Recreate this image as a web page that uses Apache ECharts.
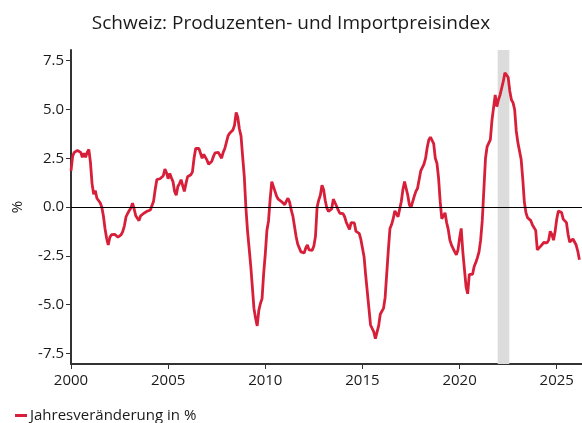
<!DOCTYPE html>
<html>
<head>
<meta charset="utf-8">
<script src="https://cdn.jsdelivr.net/npm/echarts@6/dist/echarts.min.js"></script>
<style>
html,body{margin:0;padding:0;background:#fff;}
#chart{width:582px;height:423px;}
</style>
</head>
<body>
<div id="chart"></div>
<script>
var titleText = 'Schweiz: Produzenten- und Importpreisindex';
var seriesName = 'Jahresveränderung in %';
var startYear = 2000;
// monthly year-over-year change, Jan 2000 onwards
var values = [
  1.85, 2.6, 2.8, 2.85, 2.9, 2.95, 2.8, 2.55, 2.75, 2.55, 2.8, 2.95,
  2.3, 1.2, 0.65, 0.85, 0.45, 0.38, 0.22, 0.0, -0.45, -1.1, -1.6, -1.95,
  -1.55, -1.42, -1.38, -1.4, -1.47, -1.55, -1.6, -1.42, -1.25, -0.95, -0.5, -0.33,
  -0.18, -0.05, 0.2, -0.1, -0.45, -0.58, -0.7, -0.45, -0.35, -0.32, -0.28, -0.22,
  -0.2, -0.15, -0.07, 0.3, 0.9, 1.4, 1.42, 1.45, 1.45, 1.6, 1.95, 1.75,
  1.45, 1.72, 1.5, 1.3, 0.8, 0.6, 1.05, 1.2, 1.4, 1.1, 0.8, 1.2,
  1.55, 1.6, 1.65, 1.8, 2.5, 3.0, 3.02, 3.0, 2.95, 2.5, 2.7, 2.6,
  2.4, 2.2, 2.2, 2.35, 2.6, 2.78, 2.8, 2.8, 2.7, 2.5, 2.8, 3.0,
  3.1, 3.65, 3.78, 3.7, 3.95, 4.2, 4.85, 4.6, 4.0, 3.65, 2.6, 1.6,
  0.0, -1.2, -2.1, -3.0, -4.1, -5.2, -5.7, -6.1, -5.3, -4.95, -4.7, -3.4,
  -2.4, -1.2, -0.7, 0.4, 1.3, 1.35, 0.8, 0.55, 0.4, 0.35, 0.28, 0.2,
  0.12, 0.3, 0.45, 0.25, -0.15, -0.45, -0.55, -1.5, -1.9, -1.93, -2.3, -2.36,
  -2.36, -2.1, -1.95, -2.2, -2.27, -2.22, -2.0, -1.5, 0.0, 0.35, 0.6, 1.12,
  0.9, 0.35, -0.05, -0.22, -0.17, -0.1, 0.4, 0.3, 0.05, -0.15, -0.32, -0.34,
  -0.34, -0.5, -0.78, -0.85, -1.15, -0.8, -0.8, -0.82, -1.25, -1.18, -1.35, -1.65,
  -2.1, -2.55, -3.5, -3.5, -5.2, -6.05, -6.15, -6.4, -6.75, -6.78, -6.1, -5.5,
  -5.45, -5.2, -4.65, -4.55, -2.2, -1.1, -0.9, -0.6, -0.2, -0.14, -0.5, -0.4,
  0.28, 0.9, 1.3, 1.25, 0.6, 0.1, -0.02, -0.05, 0.55, 0.8, 0.95, 1.4,
  1.85, 1.9, 2.2, 2.5, 3.05, 3.45, 3.58, 3.55, 3.25, 2.5, 2.25, 1.5,
  0.3, -0.6, -0.6, -0.3, -0.8, -1.15, -1.7, -1.95, -2.05, -2.3, -2.45, -2.2,
  -1.6, -1.1, -2.3, -3.2, -4.1, -4.45, -3.45, -3.4, -3.45, -3.05, -2.85, -2.6,
  -2.3, -1.7, -0.7, 0.9, 2.5, 3.1, 3.14, 3.45, 4.45, 4.55, 5.75, 5.15,
  5.5, 5.75, 6.1, 6.45, 6.88, 6.95, 6.65, 5.95, 5.5, 5.35, 5.0, 3.9,
  3.3, 3.2, 2.45, 1.45, 0.25, -0.3, -0.55, -0.6, -0.7, -0.92, -0.98, -1.2,
  -2.2, -2.15, -2.02, -2.02, -1.82, -1.84, -1.84, -1.7, -1.25, -1.4, -1.7, -1.25,
  -0.62, -0.2, -0.1, -0.28, -0.62, -0.72, -0.8, -1.4, -1.8, -1.75, -1.64, -1.7,
  -1.95, -2.27, -2.7
];
var xTicks = [2000, 2005, 2010, 2015, 2020, 2025];
var yTicks = [-7.5, -5.0, -2.5, 0.0, 2.5, 5.0, 7.5];
var shadeStart = 2021.96;
var shadeEnd = 2022.56;

var data = values.map(function (v, i) { return [startYear + i / 12, v]; });

var chart = echarts.init(document.getElementById('chart'), null, {renderer: 'canvas'});
var font = '"Open Sans", Lato, sans-serif';
chart.setOption({
  animation: false,
  backgroundColor: '#ffffff',
  title: {
    text: titleText,
    left: 'center',
    top: 9,
    textStyle: {fontFamily: font, fontSize: 19, fontWeight: 'normal', color: '#1a1a1a'}
  },
  legend: {
    left: 10,
    top: 403,
    itemWidth: 12,
    itemHeight: 3,
    itemGap: 4,
    icon: 'rect',
    data: [seriesName],
    textStyle: {fontFamily: font, fontSize: 15, color: '#1a1a1a', padding: [0, 0, 0, -2]}
  },
  grid: {left: 71, right: 0, top: 50, bottom: 59, containLabel: false},
  xAxis: {
    type: 'value',
    min: 2000,
    max: 2026.3,
    interval: 5,
    splitLine: {show: false},
    axisLine: {onZero: false, lineStyle: {color: '#333', width: 2}},
    axisTick: {customValues: xTicks, length: 5, lineStyle: {color: '#333', width: 1}},
    axisLabel: {
      customValues: xTicks,
      margin: 9,
      fontFamily: font, fontSize: 15, color: '#1a1a1a',
      formatter: function (v) { return String(Math.round(v)); }
    }
  },
  yAxis: {
    type: 'value',
    min: -8.05,
    max: 8.05,
    name: '%',
    nameLocation: 'middle',
    nameGap: 46,
    nameRotate: 90,
    nameTextStyle: {fontFamily: font, fontSize: 15, color: '#1a1a1a'},
    splitLine: {show: false},
    axisLine: {show: true, onZero: false, lineStyle: {color: '#333', width: 2}},
    axisTick: {show: true, customValues: yTicks, length: 5, lineStyle: {color: '#333', width: 1}},
    axisLabel: {
      customValues: yTicks,
      margin: 7,
      fontFamily: font, fontSize: 15, color: '#1a1a1a',
      formatter: function (v) { return v.toFixed(1); }
    }
  },
  series: [{
    name: seriesName,
    type: 'line',
    data: data,
    showSymbol: false,
    symbol: 'none',
    color: '#d81f3a',
    lineStyle: {color: '#d81f3a', width: 2.8},
    z: 3,
    markArea: {
      silent: true,
      itemStyle: {color: '#dcdcdc'},
      data: [[{xAxis: shadeStart}, {xAxis: shadeEnd}]]
    },
    markLine: {
      silent: true,
      symbol: 'none',
      label: {show: false},
      lineStyle: {color: '#000', width: 1.2, type: 'solid'},
      data: [{yAxis: 0}]
    }
  }]
});
</script>
</body>
</html>
